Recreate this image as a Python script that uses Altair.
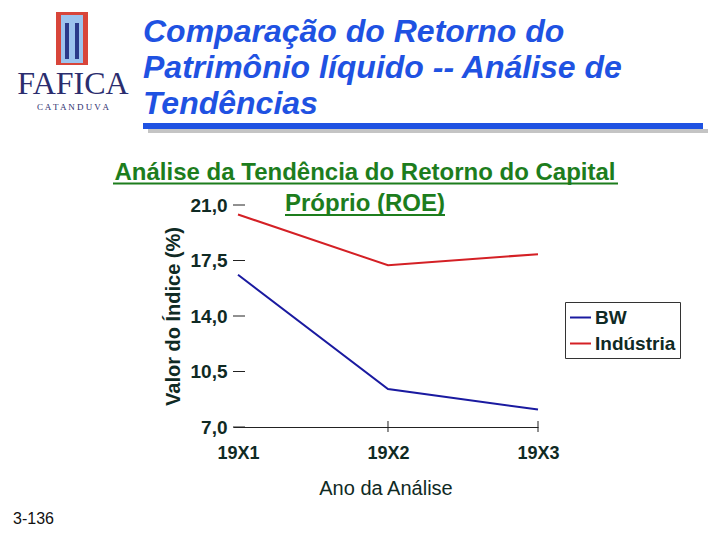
import altair as alt
import pandas as pd

# ---- data ----
years = ["19X1", "19X2", "19X3"]
bw = [16.6, 9.4, 8.1]
industria = [20.4, 17.2, 17.9]
series_names = ["BW", "Indústria"]
y_ticks = [7.0, 10.5, 14.0, 17.5, 21.0]
x_ticks_marked = [2, 3]

title_lines = ["Comparação do Retorno do", "Patrimônio líquido -- Análise de", "Tendências"]
chart_title = ["Análise da Tendência do Retorno do Capital", "Próprio (ROE)"]
footer = "3-136"

rows = []
for i, yr in enumerate(years):
    rows.append({"idx": i + 1, "ano": yr, "serie": series_names[0], "valor": bw[i]})
    rows.append({"idx": i + 1, "ano": yr, "serie": series_names[1], "valor": industria[i]})
df = pd.DataFrame(rows)

SANS = "Liberation Sans, Arial, Helvetica, sans-serif"
SERIF = "Liberation Serif, Times New Roman, serif"
DARK = "#0f2a24"
GREEN = "#1d7d1d"
BLUE_T = "#1f52e2"

W, H = 305, 222
label_expr = "[" + ",".join("'%s'" % y for y in years) + "][datum.value-1]"

x_scale = alt.Scale(domain=[0.9667, 3], nice=False, zero=False)
y_scale = alt.Scale(domain=[7, 21], nice=False, zero=False)

x_axis = alt.Axis(values=[1, 2, 3], labelExpr=label_expr, ticks=False, grid=False,
                  labelFlush=False, labelOverlap=False,
                  domainColor="#222", domainWidth=1.2,
                  labelFont=SANS, labelFontSize=18, labelFontWeight="bold",
                  labelColor=DARK, labelPadding=17,
                  title="Ano da Análise", titleFont=SANS, titleFontSize=20,
                  titleFontWeight="normal", titleColor=DARK, titlePadding=16)
y_axis = alt.Axis(values=y_ticks, labelExpr="replace(format(datum.value, '.1f'), '.', ',')",
                  ticks=False, domain=False, grid=False, labelFlush=False, labelOverlap=False,
                  labelFont=SANS, labelFontSize=19, labelFontWeight="bold",
                  labelColor=DARK, labelPadding=6,
                  title="Valor do Índice (%)", titleFont=SANS, titleFontSize=20,
                  titleFontWeight="bold", titleColor=DARK, titlePadding=7)

lines = alt.Chart(df).mark_line(strokeWidth=2).encode(
    x=alt.X("idx:Q", scale=x_scale, axis=x_axis),
    y=alt.Y("valor:Q", scale=y_scale, axis=y_axis),
    color=alt.Color("serie:N", scale=alt.Scale(domain=series_names, range=["#1a1aa0", "#d42025"]),
                    legend=alt.Legend(orient="none", legendX=332, legendY=97, title=None,
                                      strokeColor="#333", fillColor="white", padding=4,
                                      symbolType="stroke", symbolSize=441, symbolStrokeWidth=2,
                                      labelFont=SANS, labelFontSize=19, labelFontWeight="bold",
                                      labelColor=DARK, rowPadding=4, labelOffset=3)),
)

ytick_df = pd.DataFrame({"valor": y_ticks})
yticks = alt.Chart(ytick_df).mark_rule(color="#222", strokeWidth=1).encode(
    y=alt.Y("valor:Q", scale=y_scale, axis=y_axis),
    x=alt.value(0), x2=alt.value(12))

xtick_df = pd.DataFrame({"idx": x_ticks_marked})
xticks = alt.Chart(xtick_df).mark_rule(color="#222", strokeWidth=1).encode(
    x=alt.X("idx:Q", scale=x_scale, axis=x_axis),
    y=alt.value(H - 6), y2=alt.value(H + 5))

one = pd.DataFrame({"t": [""]})


def txt(text, x, y, size, color, font=SANS, weight="normal", style="normal", align="left", baseline="alphabetic"):
    return alt.Chart(pd.DataFrame({"t": [text]})).mark_text(
        font=font, fontSize=size, fontWeight=weight, fontStyle=style, color=color,
        align=align, baseline=baseline).encode(x=alt.value(x), y=alt.value(y), text="t:N")


def box(x1, x2, y1, y2, color):
    return alt.Chart(one).mark_rect(color=color).encode(
        x=alt.value(x1), x2=alt.value(x2), y=alt.value(y1), y2=alt.value(y2))


layers = []
# logo
layers.append(box(-177, -145, -193, -140, "#d8453a"))
layers.append(box(-172, -150, -190, -142, "#9cc3ee"))
layers.append(box(-168, -164, -182, -146, "#2a3a8a"))
layers.append(box(-158, -154, -182, -146, "#2a3a8a"))
layers.append(txt("FAFICA", -160, -111, 32, "#2b2d6e", font=SERIF, align="center"))
layers.append(txt("C A T A N D U V A", -160, -95, 9, "#2b2d6e", font=SERIF, align="center"))
# slide title
for i, line in enumerate(title_lines):
    layers.append(txt(line, -90, -163 + i * 36, 32, BLUE_T, weight="bold", style="italic"))
layers.append(box(-85, 475, -76, -72, "#c4c4c4"))
layers.append(box(-90, 470, -82, -76, BLUE_T))
# chart title
layers.append(txt(chart_title[0], 132, -25, 24, GREEN, weight="bold", align="center"))
layers.append(txt(chart_title[1], 132, 6, 24, GREEN, weight="bold", align="center"))
layers.append(box(-120, 385, -22.5, -20.5, GREEN))
layers.append(box(52, 212, 9, 11, GREEN))
# footer
layers.append(txt(footer, -220, 319, 16, "#111"))

chart = alt.layer(lines, yticks, xticks, *layers).properties(
    width=W, height=H,
    autosize=alt.AutoSizeParams(type="none"),
    padding={"left": 225, "top": 197, "right": 174, "bottom": 110},
).configure_view(stroke=None)

chart.save("out.html", embed_options={"renderer": "svg", "actions": False})
